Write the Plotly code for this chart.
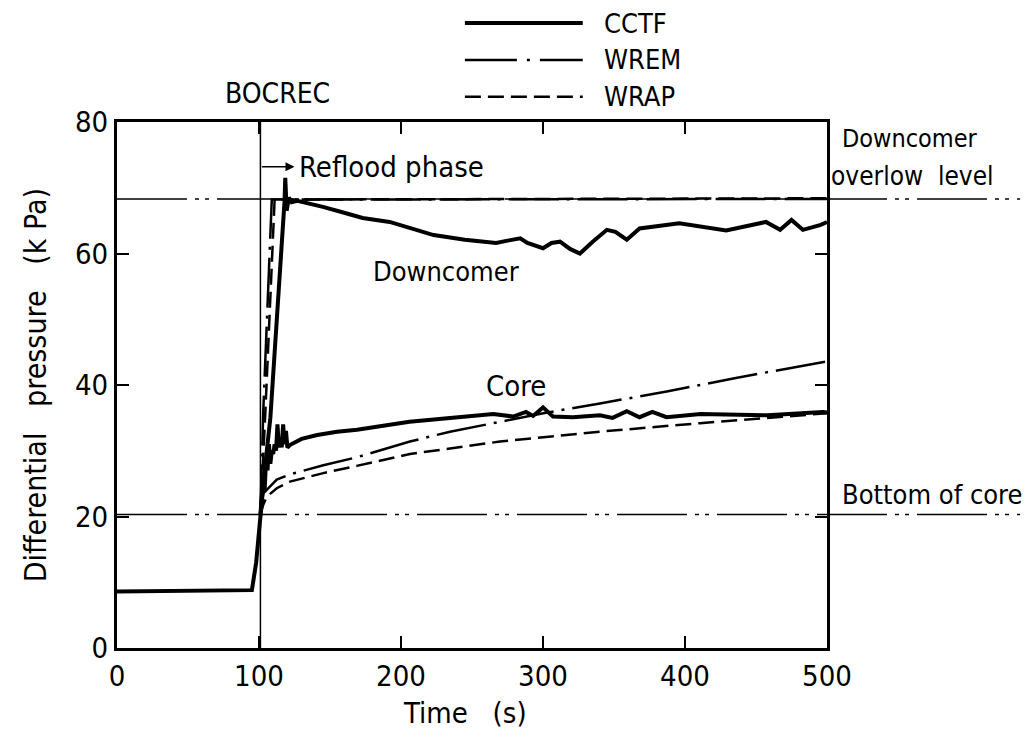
import plotly.graph_objects as go

# ---------------- data ----------------
# CCTF downcomer (includes the pre-BOCREC common part)
cctf_dc_t = [0, 95, 98, 101, 104, 108, 112, 115, 117, 118, 118.5, 119.5, 121, 123, 127, 136, 145, 160, 173, 192,
             206, 223, 245, 267, 276, 284, 289, 293, 300, 306, 312, 319, 326, 335, 345, 351, 359, 368,
             396, 429, 457, 467, 475, 483, 495, 500]
cctf_dc_v = [8.6, 8.8, 13.0, 20.3, 27.0, 35.0, 48.0, 58.0, 65.0, 68.0, 71.5, 66.5, 68.5, 67.8, 68.0, 67.6, 67.1, 66.2, 65.4, 64.8,
             63.9, 62.8, 62.1, 61.6, 62.0, 62.3, 61.6, 61.3, 60.8, 61.6, 61.8, 60.7, 60.0, 61.8, 63.6, 63.3, 62.1, 63.8,
             64.6, 63.5, 64.8, 63.6, 65.1, 63.6, 64.3, 64.8]

# CCTF core
cctf_core_t = [101, 103, 104, 105, 106, 107, 108, 109, 110, 111, 112, 113, 114, 115, 116, 117, 118, 119, 120,
               122, 130, 141, 155, 169, 206, 240, 265, 279, 288, 293, 300, 307, 321, 340, 349, 359, 368, 377, 387, 411, 458, 497, 500]
cctf_core_v = [20.3, 26.0, 24.0, 29.0, 27.0, 31.0, 28.0, 30.0, 29.5, 31.0, 30.0, 34.0, 30.5, 32.0, 30.5, 34.0, 31.0, 33.0, 30.5,
               30.9, 31.8, 32.4, 32.9, 33.2, 34.4, 35.1, 35.6, 35.2, 35.9, 35.3, 36.6, 35.2, 35.1, 35.4, 35.0, 36.0, 35.1, 35.9, 35.1,
               35.6, 35.4, 35.9, 35.8]

# WREM downcomer / core
wrem_dc_t = [101, 103, 109, 500]
wrem_dc_v = [20.3, 36.0, 68.2, 68.3]
wrem_core_t = [101, 103, 112.5, 121.8, 145.3, 168.8, 206.3, 234.5, 269.7, 300.2, 340.1, 387.1, 434.0, 500]
wrem_core_v = [20.3, 23.5, 25.6, 26.4, 27.8, 29.0, 31.4, 32.9, 34.4, 35.7, 37.2, 39.0, 41.0, 43.6]

# WRAP downcomer / core
wrap_dc_t = [101, 104.5, 111, 500]
wrap_dc_v = [20.3, 36.0, 68.2, 68.4]
wrap_core_t = [101, 103, 105.4, 112.5, 121.8, 145.3, 168.8, 206.3, 269.7, 340.1, 410.6, 500]
wrap_core_v = [20.3, 21.8, 23.0, 24.3, 25.3, 26.6, 27.7, 29.5, 31.4, 32.9, 34.2, 35.7]

overflow_level = 68.3
bottom_of_core = 20.3
bocrec_time = 101

x_ticks = [0, 100, 200, 300, 400, 500]
y_ticks = [0, 20, 40, 60, 80]

FONT = "DejaVu Sans Condensed, DejaVu Sans, sans-serif"

CCTF_STYLE = dict(color="black", width=4)
WREM_STYLE = dict(color="black", width=2.5, dash="50px,8px,3px,8px")
WRAP_STYLE = dict(color="black", width=2.5, dash="16px,7px")
REF_STYLE = dict(color="black", width=1.5, dash="70px,8px,4px,6px,4px,8px")

fig = go.Figure()

# model curves first (under), then CCTF on top
fig.add_trace(go.Scatter(x=wrap_core_t, y=wrap_core_v, mode="lines", line=WRAP_STYLE, showlegend=False))
fig.add_trace(go.Scatter(x=wrap_dc_t, y=wrap_dc_v, mode="lines", line=WRAP_STYLE, showlegend=False))
fig.add_trace(go.Scatter(x=wrem_core_t, y=wrem_core_v, mode="lines", line=WREM_STYLE, showlegend=False))
fig.add_trace(go.Scatter(x=wrem_dc_t, y=wrem_dc_v, mode="lines", line=WREM_STYLE, showlegend=False))
fig.add_trace(go.Scatter(x=cctf_core_t, y=cctf_core_v, mode="lines", line=CCTF_STYLE, showlegend=False))
fig.add_trace(go.Scatter(x=cctf_dc_t, y=cctf_dc_v, mode="lines", line=CCTF_STYLE, showlegend=False))

shapes = []
# reference levels, extending right of the plot to the side labels
for lvl in (overflow_level, bottom_of_core):
    shapes.append(dict(type="line", xref="paper", yref="y", x0=0, x1=1.272, y0=lvl, y1=lvl,
                       line=REF_STYLE, layer="below"))
# BOCREC vertical line
shapes.append(dict(type="line", xref="x", yref="y", x0=bocrec_time, x1=bocrec_time, y0=0, y1=81.2,
                   line=dict(color="black", width=1.5)))

# custom legend (long line samples)
leg_x0, leg_x1 = 0.49, 0.656
leg_rows = [("CCTF", CCTF_STYLE, 1.188), ("WREM", WREM_STYLE, 1.118), ("WRAP", WRAP_STYLE, 1.048)]
annotations = []
for name, style, yy in leg_rows:
    st = dict(style)
    if name == "WREM":
        st["dash"] = "52px,10px,3px,10px"
    shapes.append(dict(type="line", xref="paper", yref="paper", x0=leg_x0, x1=leg_x1, y0=yy, y1=yy,
                       line=st))
    annotations.append(dict(xref="paper", yref="paper", x=0.683, y=yy, text=name, showarrow=False,
                            xanchor="left", yanchor="middle", font=dict(size=27, family=FONT, color="black")))


def txt(size):
    return dict(showarrow=False, font=dict(size=size, family=FONT, color="black"))


annotations += [
    dict(xref="x", yref="paper", x=bocrec_time + 12, y=1.055, text="BOCREC", xanchor="center", yanchor="middle", **txt(28)),
    dict(xref="x", yref="y", x=127, y=73.2, text="Reflood phase", xanchor="left", yanchor="middle", **txt(29)),
    dict(xref="x", yref="y", x=125, y=73.2, ax=bocrec_time, ay=73.2, axref="x", ayref="y", text="",
         showarrow=True, arrowhead=2, arrowsize=1.2, arrowwidth=1.5, arrowcolor="black"),
    dict(xref="x", yref="y", x=232, y=57.3, text="Downcomer", xanchor="center", yanchor="middle", **txt(27)),
    dict(xref="x", yref="y", x=281, y=39.9, text="Core", xanchor="center", yanchor="middle", **txt(29)),
    dict(xref="paper", yref="y", x=1.018, y=77.5, text="Downcomer", xanchor="left", yanchor="middle", **txt(25)),
    dict(xref="paper", yref="y", x=1.003, y=71.8, text="overlow  level", xanchor="left", yanchor="middle", **txt(26)),
    dict(xref="paper", yref="y", x=1.018, y=23.4, text="Bottom of core", xanchor="left", yanchor="middle", **txt(27)),
    dict(xref="paper", yref="paper", x=0.49, y=(648 - 713) / 526, text="Time   (s)", xanchor="center",
         yanchor="middle", **txt(29)),
    dict(xref="paper", yref="paper", x=-0.115, y=0.5, text="Differential   pressure   (k Pa)", textangle=-90,
         xanchor="center", yanchor="middle", **txt(30)),
]

axis_common = dict(showline=True, linewidth=3, linecolor="black", mirror="ticks", ticks="inside",
                   ticklen=12, tickwidth=2, tickcolor="black", showgrid=False, zeroline=False,
                   tickfont=dict(size=29, family=FONT, color="black"))

fig.update_layout(
    width=1034, height=735,
    margin=dict(l=117, r=207, t=122, b=87),
    paper_bgcolor="white", plot_bgcolor="white",
    xaxis=dict(range=[0, 500], tickvals=x_ticks, ticktext=[str(v) for v in x_ticks], **axis_common),
    yaxis=dict(range=[0, 80], tickvals=y_ticks, ticktext=[str(v) for v in y_ticks], **axis_common),
    shapes=shapes,
    annotations=annotations,
    showlegend=False,
)

fig.write_html("out.html")
